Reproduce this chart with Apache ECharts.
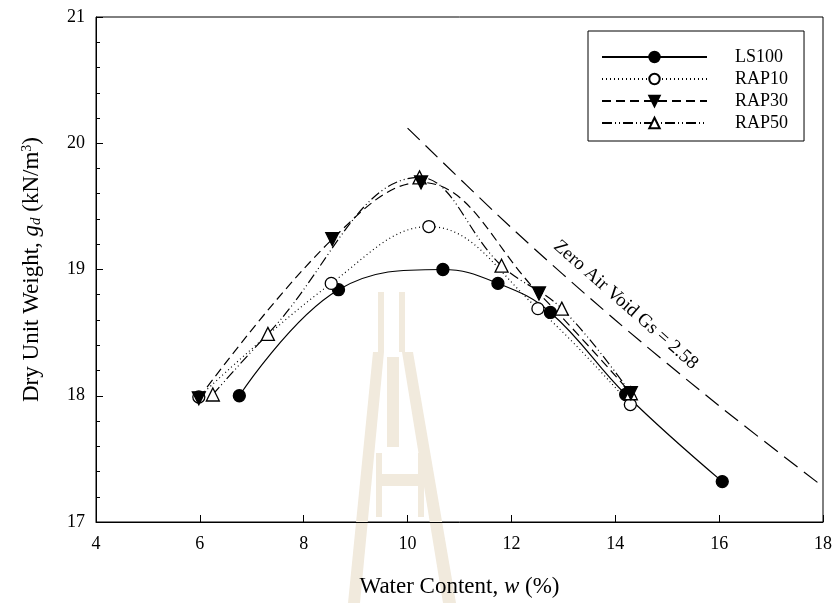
<!DOCTYPE html>
<html>
<head>
<meta charset="utf-8">
<script src="https://cdn.jsdelivr.net/npm/echarts@6/dist/echarts.min.js"></script>
<style>
html,body{margin:0;padding:0;background:#fff;}
#chart{width:835px;height:603px;}
</style>
</head>
<body>
<div id="chart"></div>
<script>
// ---- data ----
const seriesNames = ['LS100', 'RAP10', 'RAP30', 'RAP50'];
const ls100X = [6.76, 8.67, 10.68, 11.74, 12.75, 14.2, 16.06];
const ls100Y = [18.0, 18.84, 19.0, 18.89, 18.66, 18.01, 17.32];
const rap10X = [5.98, 8.53, 10.41, 12.51, 14.29];
const rap10Y = [17.99, 18.89, 19.34, 18.69, 17.93];
const rap30X = [5.98, 8.55, 10.26, 12.53, 14.3];
const rap30Y = [17.98, 19.24, 19.69, 18.81, 18.02];
const rap50X = [6.25, 7.31, 10.23, 11.81, 12.97, 14.3];
const rap50Y = [18.01, 18.49, 19.73, 19.03, 18.69, 18.02];
const zavX = [10.0, 12, 14, 16, 18];
const zavY = [20.12, 19.33, 18.6, 17.92, 17.28];
const zavLabel = 'Zero Air Void Gs = 2.58';
const xTitle = 'Water Content, ';
const yTitle = 'Dry Unit Weight, ';

const FONT = '"Liberation Serif", "Times New Roman", serif';
const pairs = (xs, ys) => xs.map((x, i) => [x, ys[i]]);

const chart = echarts.init(document.getElementById('chart'), null, {renderer: 'canvas'});

function lineSeries(name, xs, ys, symbol, fill, dash, rotate, size) {
  return {
    name: name, type: 'line', data: pairs(xs, ys),
    smooth: 0.4, symbol: symbol, symbolSize: size, symbolRotate: rotate || 0,
    showAllSymbol: true,
    lineStyle: {color: '#000', width: 1.2, type: dash},
    itemStyle: {color: fill, borderColor: '#000', borderWidth: 1.3},
    emphasis: {disabled: true}
  };
}

const option = {
  animation: false,
  backgroundColor: '#fff',
  grid: {left: 96, right: 12, top: 17, bottom: 80, show: true, borderColor: '#000', borderWidth: 1, backgroundColor: 'transparent'},
  xAxis: {
    type: 'value', min: 4, max: 18, interval: 2,
    name: xTitle + '{i|w} (%)', nameLocation: 'middle', nameGap: 53,
    nameTextStyle: {fontFamily: FONT, fontSize: 23, color: '#000', rich: {i: {fontFamily: FONT, fontSize: 23, fontStyle: 'italic', color: '#000'}}},
    axisLine: {show: true, onZero: false, lineStyle: {color: '#000', width: 1}},
    axisTick: {show: true, inside: true, length: 7, lineStyle: {color: '#000'}},
    axisLabel: {fontFamily: FONT, fontSize: 18, color: '#000', margin: 13},
    splitLine: {show: false}
  },
  yAxis: {
    type: 'value', min: 17, max: 21, interval: 1,
    name: yTitle + '{i|g}{sub|d} (kN/m{sup|3})', nameLocation: 'middle', nameGap: 52, nameRotate: 90,
    nameTextStyle: {fontFamily: FONT, fontSize: 23, color: '#000', rich: {
      i: {fontFamily: FONT, fontSize: 23, fontStyle: 'italic', color: '#000'},
      sub: {fontFamily: FONT, fontSize: 15, fontStyle: 'italic', color: '#000', verticalAlign: 'bottom', padding: [8, 0, 0, 0]},
      sup: {fontFamily: FONT, fontSize: 14, color: '#000', verticalAlign: 'top', padding: [0, 0, 10, 0]}
    }},
    axisLine: {show: true, onZero: false, lineStyle: {color: '#000', width: 1}},
    axisTick: {show: true, inside: true, length: 7, lineStyle: {color: '#000'}},
    minorTick: {show: true, splitNumber: 5, length: 4, lineStyle: {color: '#000'}},
    axisLabel: {fontFamily: FONT, fontSize: 18, color: '#000', margin: 11},
    splitLine: {show: false}
  },
  legend: {
    orient: 'vertical', left: 588, top: 31,
    data: seriesNames,
    itemWidth: 105, itemHeight: 13, itemGap: 4,
    padding: [17, 16, 9, 13],
    borderColor: '#000', borderWidth: 1, backgroundColor: '#fff',
    selectedMode: false,
    textStyle: {fontFamily: FONT, fontSize: 18, color: '#000', padding: [0, 0, 0, 23]}
  },
  series: [
    lineSeries('LS100', ls100X, ls100Y, 'circle', '#000', 'solid', 0, 12),
    lineSeries('RAP10', rap10X, rap10Y, 'circle', '#fff', [1, 3], 0, 12),
    lineSeries('RAP50', rap50X, rap50Y, 'triangle', '#fff', [10, 3, 1, 3, 1, 3], 0, 13),
    lineSeries('RAP30', rap30X, rap30Y, 'triangle', '#000', [9, 5], 180, 13),
    {
      name: 'ZAV', type: 'line', data: pairs(zavX, zavY), smooth: 0.3,
      symbol: 'none', lineStyle: {color: '#000', width: 1.2, type: [17, 8]},
      emphasis: {disabled: true}, z: 1
    }
  ]
};
chart.setOption(option);

// annotation placed through the axes
const lp = chart.convertToPixel({gridIndex: 0}, [14.2, 18.72]);
const tan = '#f1eadd';
chart.setOption({
  graphic: [
    {type: 'group', z: -10, silent: true, children: [
      {type: 'rect', shape: {x: 378, y: 292, width: 6, height: 60}, style: {fill: tan}},
      {type: 'rect', shape: {x: 399, y: 292, width: 6, height: 60}, style: {fill: tan}},
      {type: 'polygon', shape: {points: [[373, 352], [384, 352], [360, 603], [348, 603]]}, style: {fill: tan}},
      {type: 'polygon', shape: {points: [[402, 352], [413, 352], [456, 603], [443, 603]]}, style: {fill: tan}},
      {type: 'rect', shape: {x: 387, y: 357, width: 12, height: 90}, style: {fill: tan}},
      {type: 'rect', shape: {x: 376, y: 453, width: 6, height: 64}, style: {fill: tan}},
      {type: 'rect', shape: {x: 382, y: 474, width: 38, height: 12}, style: {fill: tan}},
      {type: 'rect', shape: {x: 418, y: 453, width: 6, height: 64}, style: {fill: tan}}
    ]},
    {type: 'text', x: lp[0], y: lp[1], rotation: -0.72, z: 10, silent: true,
     style: {text: zavLabel, fontFamily: FONT, fontSize: 19, fill: '#000', align: 'center', verticalAlign: 'middle'}}
  ]
});
</script>
</body>
</html>
